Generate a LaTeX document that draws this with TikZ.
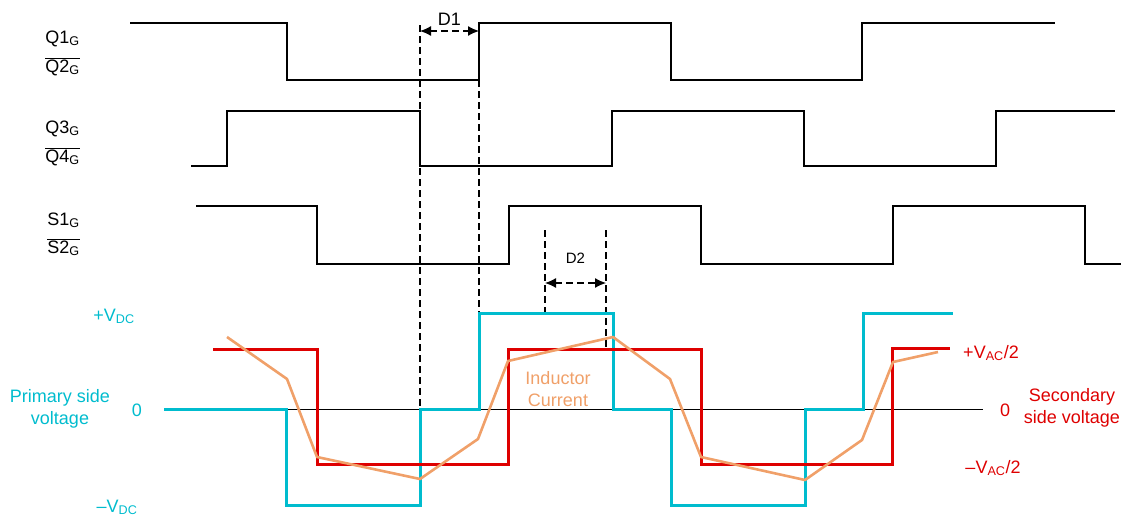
\documentclass[tikz,border=0pt]{standalone}
\usepackage{fontspec}
\setmainfont{Liberation Sans}
\usepackage{tikz}
\usetikzlibrary{arrows.meta}

\definecolor{primcyan}{RGB}{0,188,206}
\definecolor{secred}{RGB}{222,0,0}
\definecolor{indorange}{RGB}{240,160,105}

\begin{document}
\begin{tikzpicture}[x=1pt, y=-1pt,
		gate/.style={line width=2.6pt, black},
		prim/.style={line width=3pt, primcyan},
		sec/.style={line width=3pt, secred},
		ind/.style={line width=2.6pt, indorange, line join=round},
		guide/.style={line width=1.2pt, dash pattern=on 7pt off 4pt},
		dimarrow/.style={guide, {Latex[length=11pt,width=10pt]}-{Latex[length=11pt,width=10pt]}},
		lbl/.style={font=\fontsize{18}{22}\selectfont, inner sep=0pt}]
		\useasboundingbox (0,0) rectangle (1125,517);
		
		% Gate labels
		\node[lbl, anchor=base east] (q1) at (80,43) {Q1\textsubscript{G}};
		\node[lbl, anchor=base east] (q2) at (80,72) {$\overline{\mbox{Q2\textsubscript{G}}}$};
		\node[lbl, anchor=base east] (q3) at (80,133) {Q3\textsubscript{G}};
		\node[lbl, anchor=base east] (q4) at (80,162) {$\overline{\mbox{Q4\textsubscript{G}}}$};
		\node[lbl, anchor=base east] (s1) at (80,225) {S1\textsubscript{G}};
		\node[lbl, anchor=base east] (s2) at (80,253) {$\overline{\mbox{S2\textsubscript{G}}}$};
		
		% Gate signals
		\draw[gate] (130,23) -- (287,23) -- (287,80) -- (479,80) -- (479,23) -- (671,23) -- (671,80) -- (862,80) -- (862,23) -- (1055,23);
		\draw[gate] (191,166) -- (227,166) -- (227,111) -- (420,111) -- (420,166) -- (612,166) -- (612,111) -- (804,111) -- (804,166) -- (996,166) -- (996,111) -- (1115,111);
		\draw[gate] (196,206) -- (317,206) -- (317,264) -- (509,264) -- (509,206) -- (701,206) -- (701,264) -- (893,264) -- (893,206) -- (1085,206) -- (1085,264) -- (1121,264);
		
		% Dead time D1
		\coordinate (d1top) at (420,25);
		\coordinate (d1bot) at (420,409);
		\coordinate (d1l) at (420,31);
		\coordinate (d1r) at (479,31);
		\coordinate (d1rtop) at (479,80);
		\coordinate (d1rbot) at (479,313);
		\draw[guide] (d1top) -- (d1bot);
		\draw[guide] (d1rtop) -- (d1rbot);
		\draw[dimarrow] (d1l) -- node[lbl, above=5pt] (d1) {D1} (d1r);
		
		% Phase shift D2
		\coordinate (d2ltop) at (545,230);
		\coordinate (d2lbot) at (545,313);
		\coordinate (d2rtop) at (606,230);
		\coordinate (d2rbot) at (606,349);
		\draw[guide] (d2ltop) -- (d2lbot);
		\draw[guide] (d2rtop) -- (d2rbot);
		\draw[dimarrow] (545,283) -- node[lbl, font=\fontsize{15}{18}\selectfont, above=19pt] (d2) {D2} (606,283);
		
		% Zero line
		\draw[line width=0.9pt] (164,409) -- (983,409);
		
		% Primary side voltage
		\draw[prim] (164,409) -- (286,409) -- (286,505) -- (420,505) -- (420,409) -- (479,409) -- (479,313) -- (613,313) -- (613,409) -- (671,409) -- (671,505) -- (805,505) -- (805,409) -- (863,409) -- (863,313) -- (953,313);
		\node[lbl, primcyan, anchor=base] (vdcp) at (114,321) {+V\textsubscript{DC}};
		\node[lbl, primcyan, anchor=base] (zerop) at (137,416) {0};
		\node[lbl, primcyan, anchor=base] (vdcn) at (117,512) {\textendash V\textsubscript{DC}};
		\node[lbl, primcyan, align=center] (prim) at (60,409) {Primary side\\voltage};
		
		% Secondary side voltage
		\draw[sec] (213,349) -- (317,349) -- (317,464) -- (508,464) -- (508,349) -- (701,349) -- (701,464) -- (892,464) -- (892,348) -- (950,348);
		\node[lbl, secred, anchor=base] (vacp) at (991,358) {+V\textsubscript{AC}/2};
		\node[lbl, secred, anchor=base] (zeros) at (1005,416) {0};
		\node[lbl, secred, anchor=base] (vacn) at (993,473) {\textendash V\textsubscript{AC}/2};
		\node[lbl, secred, align=center] (secv) at (1072,408) {Secondary\\side voltage};
		
		% Inductor current
		\draw[ind] (227,337) -- (287,379) -- (317,457) -- (420,479) -- (478,439) -- (508,361) -- (613,337) -- (670,379) -- (701,457) -- (805,480) -- (862,440) -- (893,362) -- (938,352);
		\node[lbl, indorange, align=center] (indc) at (558,389) {Inductor\\Current};
	\end{tikzpicture}
\end{document}
